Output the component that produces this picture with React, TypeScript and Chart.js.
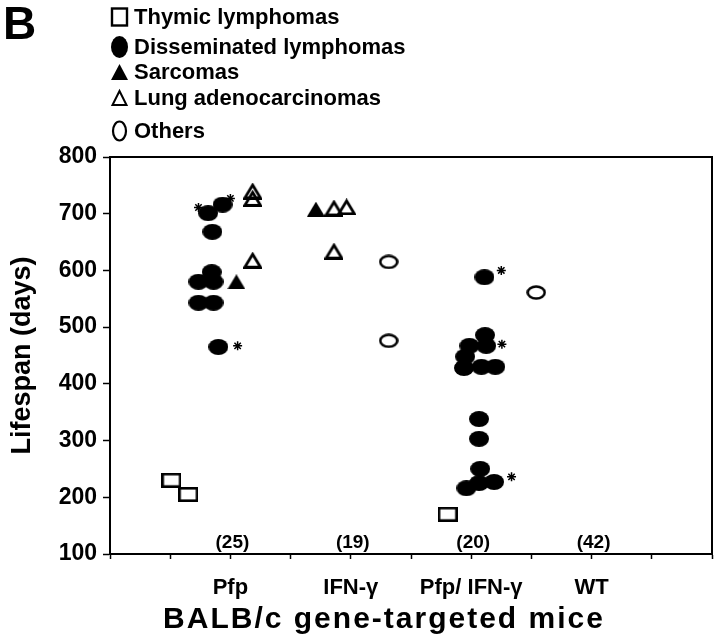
import React, { useEffect, useRef } from "react";
import { Chart, registerables } from "chart.js";

Chart.register(...registerables);

const FONT = "'Liberation Sans', Arial, Helvetica, sans-serif";

// ---- categories / labels ----
const categoryPositions = [2, 4, 6, 8];
const categoryLabels = ["Pfp", "IFN-γ", "Pfp/ IFN-γ", "WT"];
const groupCounts = ["(25)", "(19)", "(20)", "(42)"];
const countLabelValue = 120;
const yTickLabels = [100, 200, 300, 400, 500, 600, 700, 800];
const seriesNames = [
  "Thymic lymphomas",
  "Disseminated lymphomas",
  "Sarcomas",
  "Lung adenocarcinomas",
  "Others",
];
const panelLabel = "B";
const yTitle = "Lifespan (days)";
const xTitle = "BALB/c gene-targeted mice";

// ---- series values (x = jittered group position, y = lifespan in days) ----
const thymicX = [1.02, 1.3, 5.61];
const thymicY = [230, 205, 170];

const disseminatedX = [
  1.63, 1.87, 1.7, 1.69, 1.47, 1.72, 1.47, 1.72, 1.8,
  6.22, 6.23, 6.25, 5.97, 5.9, 5.88, 6.17, 6.4, 6.13, 6.13, 6.15, 5.92, 6.13, 6.38,
];
const disseminatedY = [
  701, 716, 668, 597, 580, 580, 543, 543, 465,
  588, 486, 467, 467, 448, 428, 430, 430, 338, 303, 250, 216, 225, 227,
];

const sarcomaX = [2.1, 3.42];
const sarcomaY = [580, 708];

const lungX = [2.37, 2.37, 2.37, 3.72, 3.93, 3.72];
const lungY = [740, 727, 618, 710, 712, 634];

const othersX = [4.63, 4.63, 7.08];
const othersY = [615, 476, 561];

const starX = [1.47, 2.0, 2.12, 6.5, 6.51, 6.67];
const starY = [711, 727, 467, 600, 470, 236];

const toPoints = (xs: number[], ys: number[]) => xs.map((x, i) => ({ x, y: ys[i] }));

function makeMarker(w: number, h: number, draw: (c: CanvasRenderingContext2D, w: number, h: number) => void) {
  const c = document.createElement("canvas");
  c.width = w;
  c.height = h;
  const ctx = c.getContext("2d")!;
  ctx.fillStyle = "#000";
  ctx.strokeStyle = "#000";
  draw(ctx, w, h);
  return c;
}

export default function App() {
  const ref = useRef<HTMLCanvasElement | null>(null);

  useEffect(() => {
    const canvas = ref.current;
    if (!canvas) return;

    const filledEllipse = makeMarker(20, 16, (c, w, h) => {
      c.beginPath();
      c.ellipse(w / 2, h / 2, w / 2, h / 2, 0, 0, Math.PI * 2);
      c.fill();
    });
    const openEllipse = makeMarker(20, 15, (c, w, h) => {
      c.lineWidth = 2.6;
      c.beginPath();
      c.ellipse(w / 2, h / 2, w / 2 - 1.5, h / 2 - 1.5, 0, 0, Math.PI * 2);
      c.stroke();
    });
    const openSquare = makeMarker(20, 15, (c, w, h) => {
      c.lineWidth = 2.6;
      c.strokeRect(1.3, 1.3, w - 2.6, h - 2.6);
    });
    const filledTriangle = makeMarker(18, 15, (c, w, h) => {
      c.beginPath();
      c.moveTo(w / 2, 0);
      c.lineTo(w, h);
      c.lineTo(0, h);
      c.closePath();
      c.fill();
    });
    const openTriangle = makeMarker(19, 17, (c, w, h) => {
      c.lineWidth = 2.8;
      c.lineJoin = "miter";
      c.beginPath();
      c.moveTo(w / 2, 2.5);
      c.lineTo(w - 1.6, h - 1.5);
      c.lineTo(1.6, h - 1.5);
      c.closePath();
      c.stroke();
    });

    const decor = {
      id: "decor",
      afterDatasetsDraw(chart: any) {
        const { ctx, chartArea } = chart;
        ctx.save();
        ctx.strokeStyle = "#000";
        ctx.lineWidth = 2;
        ctx.strokeRect(chartArea.left, chartArea.top, chartArea.right - chartArea.left, chartArea.bottom - chartArea.top);
        ctx.restore();
      },
      afterDraw(chart: any) {
        const { ctx } = chart;
        const xs = chart.scales.x;
        const ys = chart.scales.y;
        ctx.save();
        ctx.fillStyle = "#000";
        ctx.strokeStyle = "#000";

        // panel label
        ctx.font = `bold 46px ${FONT}`;
        ctx.textAlign = "left";
        ctx.textBaseline = "alphabetic";
        ctx.fillText(panelLabel, 3, 39);

        // legend
        const rows = [17, 47, 72, 98, 131];
        const sx = 119.5;
        // open square
        ctx.lineWidth = 2.4;
        ctx.strokeRect(112, 8.5, 15, 17);
        // filled ellipse
        ctx.beginPath();
        ctx.ellipse(sx, rows[1], 8.5, 11, 0, 0, Math.PI * 2);
        ctx.fill();
        // filled triangle
        ctx.beginPath();
        ctx.moveTo(sx, rows[2] - 8);
        ctx.lineTo(sx + 8.5, rows[2] + 8);
        ctx.lineTo(sx - 8.5, rows[2] + 8);
        ctx.closePath();
        ctx.fill();
        // open triangle
        ctx.lineWidth = 2;
        ctx.beginPath();
        ctx.moveTo(sx, rows[3] - 7);
        ctx.lineTo(sx + 7, rows[3] + 7);
        ctx.lineTo(sx - 7, rows[3] + 7);
        ctx.closePath();
        ctx.stroke();
        // open ellipse
        ctx.lineWidth = 2.2;
        ctx.beginPath();
        ctx.ellipse(sx, rows[4], 6.5, 9.5, 0, 0, Math.PI * 2);
        ctx.stroke();

        ctx.font = `bold 22px ${FONT}`;
        ctx.textBaseline = "middle";
        seriesNames.forEach((name, i) => ctx.fillText(name, 134, rows[i] + 1));

        // group counts
        ctx.font = `bold 19px ${FONT}`;
        ctx.textAlign = "center";
        const cy = ys.getPixelForValue(countLabelValue);
        groupCounts.forEach((t, i) => ctx.fillText(t, xs.getPixelForValue(categoryPositions[i]) + 2, cy));

        // x title
        ctx.font = `bold 30px ${FONT}`;
        (ctx as any).letterSpacing = "2px";
        ctx.textAlign = "center";
        ctx.fillText(xTitle, 384, 620);
        ctx.restore();
      },
    };

    const chart = new Chart(canvas, {
      type: "scatter",
      data: {
        datasets: [
          { label: seriesNames[0], data: toPoints(thymicX, thymicY), pointStyle: openSquare as any },
          { label: seriesNames[1], data: toPoints(disseminatedX, disseminatedY), pointStyle: filledEllipse as any },
          { label: seriesNames[2], data: toPoints(sarcomaX, sarcomaY), pointStyle: filledTriangle as any },
          { label: seriesNames[3], data: toPoints(lungX, lungY), pointStyle: openTriangle as any },
          { label: seriesNames[4], data: toPoints(othersX, othersY), pointStyle: openEllipse as any },
          {
            label: "*",
            data: toPoints(starX, starY),
            pointStyle: "star",
            pointRadius: 4.5,
            borderWidth: 1.5,
            borderColor: "#000",
            backgroundColor: "#000",
          },
        ],
      },
      options: {
        animation: false,
        responsive: false,
        events: [],
        layout: { padding: { top: 157, right: 8, left: 0, bottom: 0 } },
        plugins: { legend: { display: false }, tooltip: { enabled: false } },
        scales: {
          x: {
            type: "linear",
            min: 0,
            max: 10,
            afterFit(s: any) {
              s.height = 90;
              s.paddingLeft = 0;
              s.paddingRight = 0;
            },
            afterBuildTicks(s: any) {
              s.ticks = Array.from({ length: 11 }, (_, i) => ({ value: i }));
            },
            ticks: {
              autoSkip: false,
              maxRotation: 0,
              padding: 16,
              color: "#000",
              font: { family: FONT, size: 22, weight: "bold" },
              callback: (v: any) => {
                const i = categoryPositions.indexOf(Number(v));
                return i >= 0 ? categoryLabels[i] : "";
              },
            },
            grid: { drawOnChartArea: false, drawTicks: true, tickLength: 5, color: "#000", tickWidth: 1.5 },
            border: { color: "#000", width: 2 },
          },
          y: {
            min: 100,
            max: 800,
            afterFit(s: any) {
              s.width = 110;
              s.paddingTop = 0;
              s.paddingBottom = 0;
            },
            ticks: {
              stepSize: 50,
              padding: 6,
              color: "#000",
              font: { family: FONT, size: 23, weight: "bold" },
              callback: (v: any) => (yTickLabels.includes(Number(v)) ? String(v) : ""),
            },
            grid: { drawOnChartArea: false, drawTicks: true, tickLength: 7, color: "#000", tickWidth: 1.5 },
            border: { color: "#000", width: 2 },
            title: {
              display: true,
              text: yTitle,
              color: "#000",
              font: { family: FONT, size: 27, weight: "bold" },
              padding: { top: 6, bottom: 0 },
            },
          },
        },
      },
      plugins: [decor],
    } as any);

    return () => chart.destroy();
  }, []);

  return (
    <div style={{ position: "fixed", left: 0, top: 0, width: 720, height: 644, background: "#fff" }}>
      <canvas ref={ref} width={720} height={644} style={{ width: 720, height: 644 }} />
    </div>
  );
}
